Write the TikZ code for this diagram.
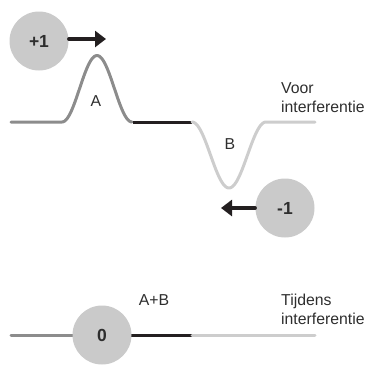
\documentclass[tikz,border=0pt]{standalone}
\usepackage{fontspec}
\setmainfont{Liberation Sans}
\usetikzlibrary{arrows.meta}
\definecolor{ballgray}{HTML}{CACACA}
\definecolor{pulsegray}{HTML}{8C8C8C}
\definecolor{palegray}{HTML}{CDCDCD}
\definecolor{darkline}{HTML}{231F20}
\definecolor{textgray}{HTML}{2E2E2E}
\tikzset{
  ball/.style={circle,fill=ballgray,minimum size=59pt,inner sep=0pt,
    font=\bfseries\fontsize{17.5}{20}\selectfont,text=textgray},
  lbl/.style={inner sep=0pt,font=\fontsize{15.8}{19}\selectfont,text=textgray},
  pulseA/.style={pulsegray,line width=3pt},
  pulseB/.style={palegray,line width=3pt},
  middle/.style={darkline,line width=3pt},
  push/.style={darkline,line width=3.2pt,-{Triangle[length=11pt,width=16pt]}}
}
\begin{document}
\begin{tikzpicture}[line cap=round,line join=round,x=1pt,y=-1pt]
      \useasboundingbox (0,0) rectangle (372,365);
      % voor interferentie
      \draw[pulseA] (11,122) -- (62,122)
        plot[domain=62:132,samples=60] (\x,{122-33.25*(1+cos(180*(\x-97)/35))});
      \draw[middle,line cap=butt] (133,122) -- (192,122);
      \draw[pulseB] plot[domain=192:266,samples=60] (\x,{122+33*(1+cos(180*(\x-229)/37))})
        -- (315,122);
      \node[lbl] (A) at (96,101) {A};
      \node[lbl] (B) at (230,144) {B};
      \node[lbl,anchor=north west,align=left] (voor) at (281,82) {Voor\\interferentie};

      \node[ball] (plus) at (39,41) {+1};
      \coordinate (plustip) at (106,39);
      \draw[push] (plus.east |- plustip) -- (plustip);
      \node[ball] (minus) at (285,208) {-1};
      \coordinate (minustip) at (221,208);
      \draw[push] (minus) -- (minustip);

      % tijdens interferentie
      \draw[pulseA] (11,335.5) -- (102,335.5);
      \draw[middle,line cap=butt] (102,335.5) -- (192,335.5);
      \draw[pulseB] (192,335.5) -- (315,335.5);
      \node[ball] (zero) at (102,335) {0};
      \node[lbl] (AB) at (154,300) {A+B};
      \node[lbl,anchor=north west,align=left] (tijdens) at (281,294) {Tijdens\\interferentie};
    \end{tikzpicture}
\end{document}
